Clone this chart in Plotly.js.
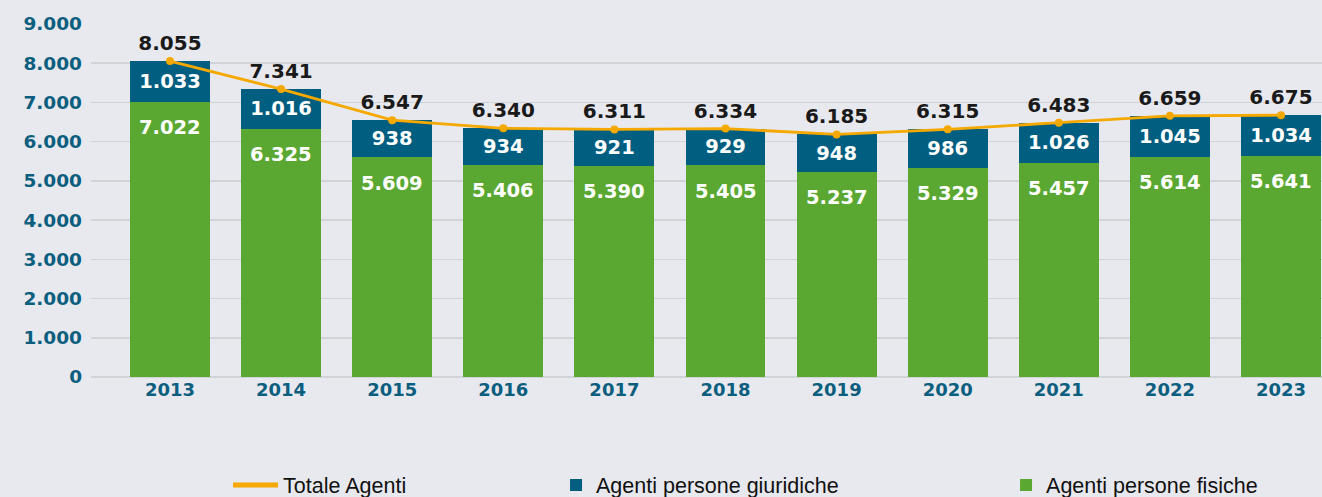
<!DOCTYPE html>
<html>
<head>
<meta charset="utf-8">
<script src="https://cdn.plot.ly/plotly-3.0.1.min.js"></script>
<style>
  html, body { margin: 0; padding: 0; background: #E8E9EE; }
  #chart { width: 1322px; height: 497px; }
</style>
</head>
<body>
<div id="chart"></div>
<script>
const years = ["2013","2014","2015","2016","2017","2018","2019","2020","2021","2022","2023"];
const fisiche = [7022, 6325, 5609, 5406, 5390, 5405, 5237, 5329, 5457, 5614, 5641];
const giuridiche = [1033, 1016, 938, 934, 921, 929, 948, 986, 1026, 1045, 1034];
const totale = [8055, 7341, 6547, 6340, 6311, 6334, 6185, 6315, 6483, 6659, 6675];

const numFont = "DejaVu Sans, sans-serif";
const green = "#5AA832";
const blue = "#005E80";
const orange = "#F5A800";

const fmt = v => String(v).replace(/\B(?=(\d{3})+(?!\d))/g, ".");

const traces = [
  {
    type: "bar", name: "Agenti persone fisiche", x: years, y: fisiche,
    marker: { color: green }, textposition: "none",
    legend: "legend3", hoverinfo: "skip"
  },
  {
    type: "bar", name: "Agenti persone giuridiche", x: years, y: giuridiche,
    marker: { color: blue },
    text: giuridiche, texttemplate: "%{y:,}", textposition: "inside",
    insidetextanchor: "middle", constraintext: "none",
    textfont: { family: numFont, size: 19.5, color: "#ffffff", weight: 700 },
    legend: "legend2", hoverinfo: "skip"
  },
  {
    type: "scatter", mode: "lines+markers+text", name: "Totale Agenti", x: years, y: totale,
    line: { color: orange, width: 2.8 },
    marker: { color: orange, size: 8 },
    text: totale, texttemplate: "%{y:,}", textposition: "top center",
    textfont: { family: numFont, size: 20, color: "#1a1a1a", weight: 700 },
    showlegend: false, hoverinfo: "skip"
  },
  {
    type: "scatter", mode: "lines", name: "Totale Agenti", x: [years[0]], y: [null],
    line: { color: orange, width: 5 },
    legend: "legend", hoverinfo: "skip"
  }
];

const annotations = years.map((yr, i) => ({
  x: i, y: fisiche[i], xref: "x", yref: "y",
  text: fmt(fisiche[i]), showarrow: false, yanchor: "middle", yshift: -26,
  font: { family: numFont, size: 19.5, color: "#ffffff", weight: 700 }
}));

const legFont = { family: "Liberation Sans, Arial, sans-serif", size: 21.5, color: "#111111" };
const legCommon = { orientation: "h", xref: "container", yref: "container", yanchor: "middle", y: 0.024,
  bgcolor: "rgba(0,0,0,0)", font: legFont, itemwidth: 30 };

const layout = {
  width: 1322, height: 497,
  paper_bgcolor: "#E8E9EE", plot_bgcolor: "#E8E9EE",
  margin: { l: 91, r: 0, t: 24, b: 120 },
  separators: ",.",
  barmode: "stack", bargap: 0.28,
  annotations: annotations,
  xaxis: {
    type: "category", range: [-0.711, 10.369], showgrid: false, zeroline: false,
    showline: false, ticks: "",
    tickfont: { family: numFont, size: 18, color: "#0B5E7E", weight: 700 },
    ticklabelstandoff: 0
  },
  yaxis: {
    range: [0, 9000], dtick: 1000, tickformat: ",",
    showgrid: true, gridcolor: "#D2D3D7", gridwidth: 1.5, zeroline: true, zerolinecolor: "#D2D3D7", zerolinewidth: 1.5,
    showline: false, ticks: "", ticklabelstandoff: 8,
    tickfont: { family: numFont, size: 18.5, color: "#0B5E7E", weight: 700 }
  },
  showlegend: true,
  legend: Object.assign({}, legCommon, { x: 0.1725, itemwidth: 45 }),
  legend2: Object.assign({}, legCommon, { x: 0.4206 }),
  legend3: Object.assign({}, legCommon, { x: 0.761 })
};

Plotly.newPlot("chart", traces, layout, { displayModeBar: false, staticPlot: true });
</script>
</body>
</html>
